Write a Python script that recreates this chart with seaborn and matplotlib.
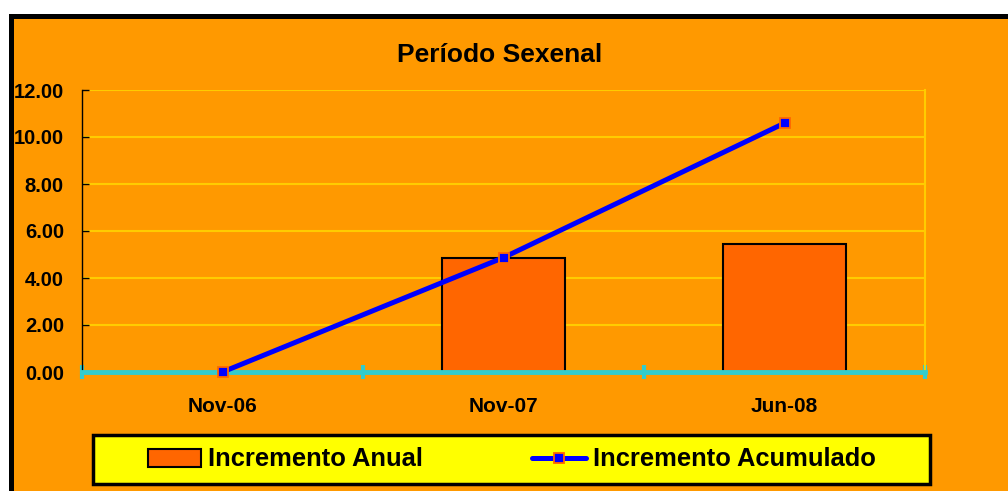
import seaborn as sns
import matplotlib.pyplot as plt
import pandas as pd
from matplotlib.patches import Rectangle

periodos = ['Nov-06', 'Nov-07', 'Jun-08']
incremento_anual = [0.0, 4.87, 5.45]
incremento_acumulado = [0.0, 4.87, 10.59]
y_ticks = [0, 2, 4, 6, 8, 10, 12]

df = pd.DataFrame({'Periodo': periodos,
                   'Anual': incremento_anual,
                   'Acumulado': incremento_acumulado})

sns.set_theme(style='white')
plt.rcParams['font.family'] = ['Liberation Sans', 'DejaVu Sans']
plt.rcParams['font.weight'] = 'bold'
plt.rcParams['text.color'] = 'black'
plt.rcParams['xtick.color'] = 'black'
plt.rcParams['ytick.color'] = 'black'

W, H = 1008, 491
naranja = '#FF9900'
fig = plt.figure(figsize=(W / 100, H / 100), dpi=100, facecolor='white')

# marco naranja con borde negro (cortado a la derecha y abajo)
fig.patches.append(Rectangle((10.5 / W, -0.1), 1.2, 1 - 15.5 / H + 0.1,
                             transform=fig.transFigure, facecolor=naranja,
                             edgecolor='black', linewidth=3.6, zorder=0))
# caja amarilla de la leyenda
fig.patches.append(Rectangle((93 / W, (H - 484) / H), (930 - 93) / W, (484 - 435) / H,
                             transform=fig.transFigure, facecolor='#FFFF00',
                             edgecolor='black', linewidth=2.5, zorder=0.5))

ax = fig.add_axes([82 / W, (H - 372) / H, (925 - 82) / W, (372 - 90) / H])
ax.set_zorder(1)
ax.set_facecolor(naranja)

sns.barplot(data=df, x='Periodo', y='Anual', color='#FF6600', saturation=1,
            edgecolor='black', linewidth=1.5, width=0.44, ax=ax,
            label='Incremento Anual', zorder=2)
sns.pointplot(data=df, x='Periodo', y='Acumulado', color='#0000FF',
              markers='s', linestyles='-', errorbar=None, linewidth=3.6,
              markersize=6.5, markeredgecolor='#FF6600', markeredgewidth=1.3,
              ax=ax, label='Incremento Acumulado')
for ln in ax.lines:
    ln.set_zorder(5)
    ln.set_clip_on(False)

ax.set_xlim(-0.5, 2.5)
ax.set_ylim(0, 12)
ax.set_yticks(y_ticks)
ax.set_yticklabels([f'{v:.2f}' for v in y_ticks])
ax.set_xlabel('')
ax.set_ylabel('')

ax.yaxis.grid(True, color='#FFCC00', linewidth=1.5)
ax.set_axisbelow(True)

ax.spines['top'].set_visible(False)
ax.spines['right'].set_color('#FFCC00')
ax.spines['right'].set_linewidth(1.5)
ax.spines['left'].set_color('black')
ax.spines['left'].set_linewidth(1)
ax.spines['bottom'].set_color('#33CCCC')
ax.spines['bottom'].set_linewidth(3.5)
ax.spines['bottom'].set_zorder(3)

ax.tick_params(axis='y', direction='in', length=5, width=1, color='black',
               labelsize=14.5, pad=13, left=True, labelcolor='black')
ax.tick_params(axis='x', which='major', length=0, labelsize=15, pad=18,
               labelcolor='black')
ax.set_xticks([-0.5, 0.5, 1.5, 2.5], minor=True)
ax.tick_params(axis='x', which='minor', direction='inout', length=10,
               width=3, color='#33CCCC', bottom=True)
for lab in ax.get_xticklabels() + ax.get_yticklabels():
    lab.set_fontweight('bold')

fig.text(500 / W, 1 - 55 / H, 'Período Sexenal', ha='center', va='center',
         fontsize=19, fontweight='bold', color='black')

handles, labels = ax.get_legend_handles_labels()
if ax.get_legend() is not None:
    ax.get_legend().remove()
orden = [labels.index('Incremento Anual'), labels.index('Incremento Acumulado')]
handles = [handles[i] for i in orden]
labels = [labels[i] for i in orden]
leg = fig.legend(handles, labels, loc='center',
                 bbox_to_anchor=((93 + 930) / 2 / W, 1 - 459.5 / H),
                 ncol=2, frameon=False, fontsize=18.4, handlelength=2.1,
                 handletextpad=0.25, columnspacing=4.3)
leg.set_zorder(5)
for t in leg.get_texts():
    t.set_fontweight('bold')
    t.set_color('black')

fig.savefig('out.png', dpi=100, facecolor='white')
